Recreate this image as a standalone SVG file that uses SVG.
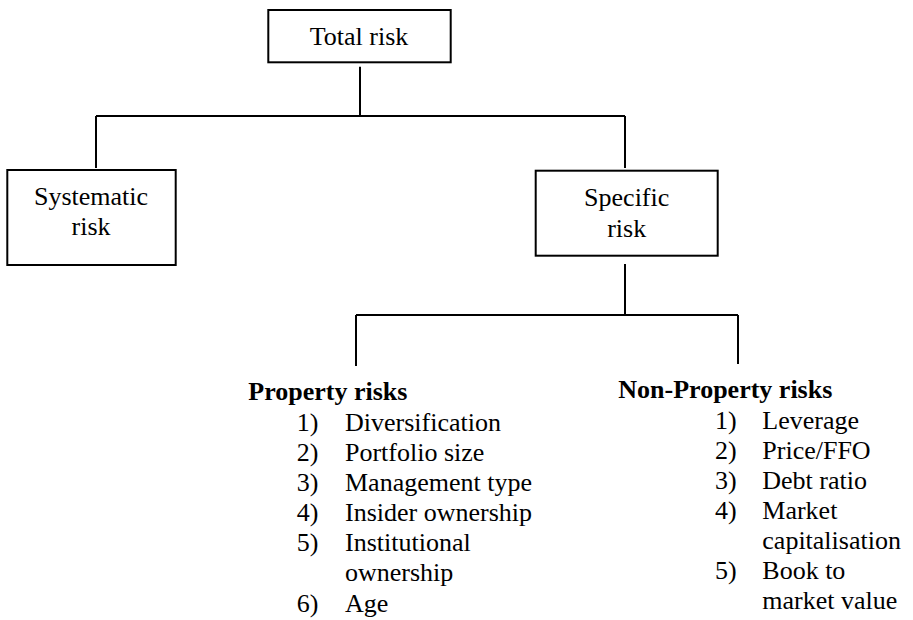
<svg xmlns="http://www.w3.org/2000/svg" width="913" height="620" viewBox="0 0 913 620" font-family="'Liberation Serif', 'Times New Roman', Times, 'DejaVu Serif', serif" font-size="26">
<style>
.box{fill:#fff;stroke:#000;stroke-width:2}
.ln{fill:none;stroke:#000;stroke-width:2}
.t{font-family:'Liberation Serif','Times New Roman',Times,'DejaVu Serif',serif;font-size:26px;fill:#000}
.c{text-anchor:middle}
.b{font-weight:bold}
</style>
<rect width="913" height="620" fill="#fff"/>
<g id="connectors">
<path class="ln" d="M360 66.7V116M96 116H625M96 116V168M625 116V168"/>
<path class="ln" d="M625 264V315M356 315H738M356 315V366M738 315V364"/>
</g>
<g id="total-risk">
<rect class="box" x="268.3" y="10" width="182.4" height="52.3"/>
<text class="t c" x="359" y="45">Total risk</text>
</g>
<g id="systematic-risk">
<rect class="box" x="7.3" y="170" width="168.4" height="95"/>
<text class="t c" x="91" y="205">Systematic</text>
<text class="t c" x="91" y="235">risk</text>
</g>
<g id="specific-risk">
<rect class="box" x="535.7" y="170.7" width="182" height="85"/>
<text class="t c" x="626.7" y="206">Specific</text>
<text class="t c" x="626.7" y="236.7">risk</text>
</g>
<g id="property-risks" class="t">
<text class="t b" x="248.3" y="400">Property risks</text>
<text class="t" x="296.7" y="430.7">1)</text><text class="t" x="345" y="430.7">Diversification</text>
<text class="t" x="296.7" y="460.5">2)</text><text class="t" x="345" y="460.5">Portfolio size</text>
<text class="t" x="296.7" y="490.5">3)</text><text class="t" x="345" y="490.5">Management type</text>
<text class="t" x="296.7" y="520.5">4)</text><text class="t" x="345" y="520.5">Insider ownership</text>
<text class="t" x="296.7" y="550.5">5)</text><text class="t" x="345" y="550.5">Institutional</text>
<text class="t" x="345" y="581">ownership</text>
<text class="t" x="296.7" y="611.5">6)</text><text class="t" x="345" y="611.5">Age</text>
</g>
<g id="non-property-risks">
<text class="t b" x="618.3" y="398.3">Non-Property risks</text>
<text class="t" x="715" y="428.5">1)</text><text class="t" x="762.3" y="428.5">Leverage</text>
<text class="t" x="715" y="458.5">2)</text><text class="t" x="762.3" y="458.5">Price/FFO</text>
<text class="t" x="715" y="488.5">3)</text><text class="t" x="762.3" y="488.5">Debt ratio</text>
<text class="t" x="715" y="518.5">4)</text><text class="t" x="762.3" y="518.5">Market</text>
<text class="t" x="762.3" y="548.5">capitalisation</text>
<text class="t" x="715" y="578.5">5)</text><text class="t" x="762.3" y="578.5">Book to</text>
<text class="t" x="762.3" y="608.5">market value</text>
</g>
</svg>
